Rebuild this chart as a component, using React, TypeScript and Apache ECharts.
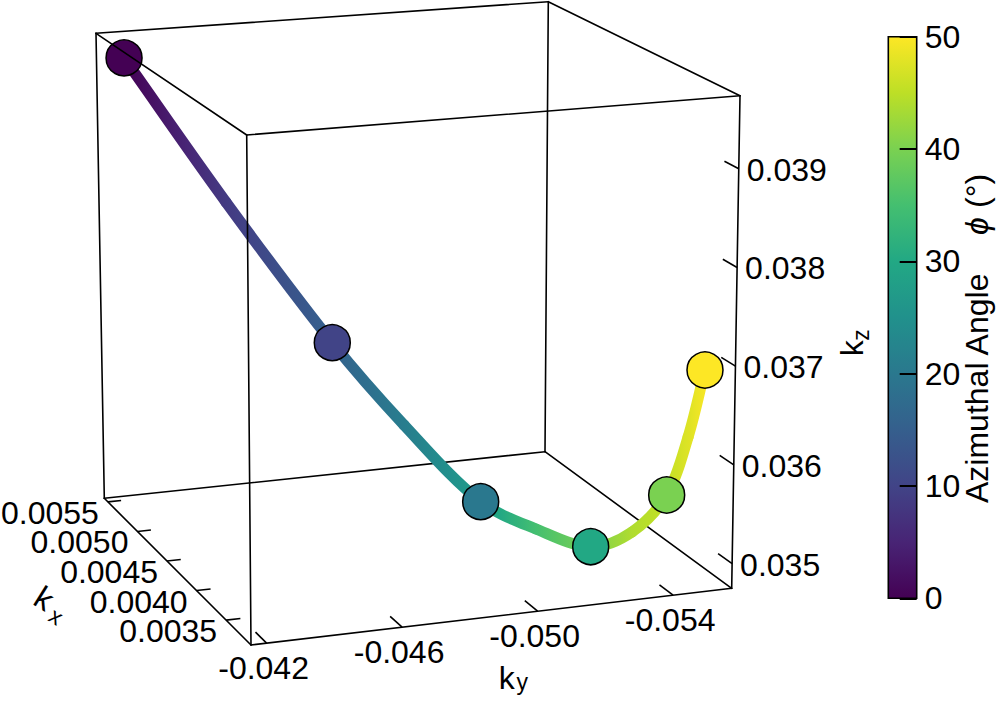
import React, { useEffect, useRef } from 'react';
import * as echarts from 'echarts';

// ---------------- data ----------------
const PHI = [0, 5, 10, 15, 20, 25, 30, 35, 40, 45, 50];
const KX = [0.005448, 0.005312, 0.005064, 0.004717, 0.00432, 0.003923, 0.003601, 0.003378, 0.003266, 0.003216, 0.003204];
const KY = [-0.042193, -0.045059, -0.047847, -0.049346, -0.05087, -0.051707, -0.052665, -0.053409, -0.054179, -0.054676, -0.055118];
const KZ = [0.03951, 0.037954, 0.036495, 0.035762, 0.035127, 0.035039, 0.035003, 0.035249, 0.035656, 0.036252, 0.036923];
// colour value (in colour-bar degrees) of the line at each sample
const LINE_SHADE = [0, 8.5, 15.5, 21, 27.5, 35, 40, 44, 45.5, 47.5, 49.5];
const MARKER_PHI = [0, 10, 20, 30, 40, 50];

const KX_TICKS = [0.0035, 0.004, 0.0045, 0.005, 0.0055];
const KY_TICKS = [-0.042, -0.046, -0.05, -0.054];
const KZ_TICKS = [0.035, 0.036, 0.037, 0.038, 0.039];
const CB_MIN = 0;
const CB_MAX = 50;
const CB_INTERVAL = 10;

// ---------------- box / projection ----------------
const KX_BACK = 0.00556;
const KX_FRONT = 0.00308;
const KY_LEFT = -0.04154;
const KY_RIGHT = -0.05573;
const KZ_BOTTOM = 0.03475;
const KZ_TOP = 0.03974;

// pixel position of the 8 box corners, key = u v w bits (u: ky, v: kx depth, w: kz)
const CORNERS: Record<string, [number, number]> = {
  '000': [104.3, 498.3],
  '100': [545, 451.7],
  '010': [251, 645],
  '110': [731.7, 588.3],
  '001': [96, 33.3],
  '101': [548.3, 1.7],
  '011': [246.7, 135],
  '111': [740, 95.7],
};
const BACK_EDGES: [string, string][] = [
  ['101', '100'],
  ['000', '100'],
  ['100', '110'],
];
const FRONT_EDGES: [string, string][] = [
  ['001', '011'],
  ['011', '111'],
  ['111', '101'],
  ['101', '001'],
  ['011', '010'],
  ['010', '000'],
  ['000', '001'],
  ['111', '110'],
  ['110', '010'],
];

const FONT = "'Liberation Sans', Arial, Helvetica, sans-serif";
const VIRIDIS = ['#440154', '#482475', '#414487', '#355f8d', '#2a788e', '#21918c', '#22a884', '#44bf70', '#7ad151', '#bddf26', '#fde725'];

function hexToRgb(h: string) {
  return [parseInt(h.slice(1, 3), 16), parseInt(h.slice(3, 5), 16), parseInt(h.slice(5, 7), 16)];
}
function viridis(t: number) {
  const c = Math.max(0, Math.min(1, t)) * 10;
  const i = Math.min(9, Math.floor(c));
  const f = c - i;
  const a = hexToRgb(VIRIDIS[i]);
  const b = hexToRgb(VIRIDIS[i + 1]);
  const m = a.map((x, k) => Math.round(x + (b[k] - x) * f));
  return `rgb(${m[0]},${m[1]},${m[2]})`;
}

function toNorm(kx: number, ky: number, kz: number) {
  return [
    (KY_LEFT - ky) / (KY_LEFT - KY_RIGHT),
    (KX_BACK - kx) / (KX_BACK - KX_FRONT),
    (kz - KZ_BOTTOM) / (KZ_TOP - KZ_BOTTOM),
  ];
}
function toPlot(u: number, v: number, w: number): [number, number] {
  let x = 0;
  let y = 0;
  for (const key of Object.keys(CORNERS)) {
    const bu = key[0] === '1';
    const bv = key[1] === '1';
    const bw = key[2] === '1';
    const wt = (bu ? u : 1 - u) * (bv ? v : 1 - v) * (bw ? w : 1 - w);
    x += wt * CORNERS[key][0];
    y += wt * CORNERS[key][1];
  }
  return [x, y];
}
function cornerPlot(key: string) {
  return toPlot(+key[0], +key[1], +key[2]);
}
function project(i: number) {
  const n = toNorm(KX[i], KY[i], KZ[i]);
  return toPlot(n[0], n[1], n[2]);
}

const edgeSeries = (edges: [string, string][], z: number) => ({
  type: 'custom',
  xAxisIndex: 0,
  yAxisIndex: 0,
  z,
  silent: true,
  encode: { x: [0, 2], y: [1, 3] },
  data: edges.map(([a, b]) => [...cornerPlot(a), ...cornerPlot(b)]),
  renderItem: (_p: any, api: any) => {
    const p0 = api.coord([api.value(0), api.value(1)]);
    const p1 = api.coord([api.value(2), api.value(3)]);
    return {
      type: 'line',
      shape: { x1: p0[0], y1: p0[1], x2: p1[0], y2: p1[1] },
      style: { stroke: '#000', lineWidth: 1.6, lineCap: 'round' },
    };
  },
});

function tickSeries(
  ticks: number[],
  digits: number,
  at: (t: number) => [[number, number, number], [number, number, number]],
  dx: number,
  dy: number,
  align: string,
  lineHeight: number
) {
  return {
    type: 'custom',
    xAxisIndex: 0,
    yAxisIndex: 0,
    z: 4,
    silent: true,
    data: ticks.map((t) => [t]),
    renderItem: (_p: any, api: any) => {
      const t = api.value(0);
      const [a, b] = at(t);
      const pa = api.coord(toPlot(a[0], a[1], a[2]));
      const pb = api.coord(toPlot(b[0], b[1], b[2]));
      return {
        type: 'group',
        children: [
          {
            type: 'line',
            shape: { x1: pa[0], y1: pa[1], x2: pb[0], y2: pb[1] },
            style: { stroke: '#000', lineWidth: 1.6 },
          },
          {
            type: 'text',
            x: pa[0] + dx,
            y: pa[1] + dy,
            style: {
              text: t.toFixed(digits),
              fontSize: 32,
              lineHeight,
              fontFamily: FONT,
              fill: '#000',
              align,
              verticalAlign: 'middle',
            },
          },
        ],
      };
    },
  };
}

function buildOption() {
  const pts = PHI.map((_, i) => project(i));
  const n = pts.length;
  const dist = (a: number[], b: number[]) => Math.hypot(b[0] - a[0], b[1] - a[1]);
  const d = pts.slice(0, -1).map((p, i) => dist(p, pts[i + 1]));
  const tang = pts.map((p, i) => {
    if (i === 0) return [(pts[1][0] - p[0]) / d[0], (pts[1][1] - p[1]) / d[0]];
    if (i === n - 1) return [(p[0] - pts[i - 1][0]) / d[i - 1], (p[1] - pts[i - 1][1]) / d[i - 1]];
    const s = d[i - 1] + d[i];
    return [(pts[i + 1][0] - pts[i - 1][0]) / s, (pts[i + 1][1] - pts[i - 1][1]) / s];
  });
  // bezier segments [x0, y0, cx1, cy1, cx2, cy2, x1, y1]
  const segs = d.map((len, i) => [
    pts[i][0],
    pts[i][1],
    pts[i][0] + (tang[i][0] * len) / 3,
    pts[i][1] + (tang[i][1] * len) / 3,
    pts[i + 1][0] - (tang[i + 1][0] * len) / 3,
    pts[i + 1][1] - (tang[i + 1][1] * len) / 3,
    pts[i + 1][0],
    pts[i + 1][1],
  ]);

  const xs = pts.map((p) => p[0]);
  const xmin = xs[0];
  const xmax = xs[n - 1];
  const stops: { offset: number; color: string }[] = [];
  const S = 8;
  for (let i = 0; i < n - 1; i++) {
    for (let k = 0; k < S; k++) {
      const f = k / S;
      const x = xs[i] + (xs[i + 1] - xs[i]) * f;
      const c = LINE_SHADE[i] + (LINE_SHADE[i + 1] - LINE_SHADE[i]) * f;
      stops.push({ offset: (x - xmin) / (xmax - xmin), color: viridis((c - CB_MIN) / (CB_MAX - CB_MIN)) });
    }
  }
  stops.push({ offset: 1, color: viridis((LINE_SHADE[n - 1] - CB_MIN) / (CB_MAX - CB_MIN)) });

  const markers = MARKER_PHI.map((m) => {
    const i = PHI.indexOf(m);
    return [...pts[i], m];
  });

  const txt = (text: string, x: number, y: number, size: number, extra: any = {}) => ({
    type: 'text',
    x,
    y,
    silent: true,
    style: { text, fontSize: size, fontFamily: FONT, fill: '#000', align: 'center', verticalAlign: 'middle', ...extra },
  });

  return {
    animation: false,
    backgroundColor: '#ffffff',
    grid: [
      { left: 0, top: 0, width: 996, height: 701 },
      { left: 888.3, top: 36.7, width: 28.4, height: 561.6 },
    ],
    xAxis: [
      { type: 'value', gridIndex: 0, min: 0, max: 996, show: false },
      { type: 'value', gridIndex: 1, min: 0, max: 1, show: false },
    ],
    yAxis: [
      { type: 'value', gridIndex: 0, min: 0, max: 701, inverse: true, show: false },
      {
        type: 'value',
        gridIndex: 1,
        min: CB_MIN,
        max: CB_MAX,
        interval: CB_INTERVAL,
        position: 'right',
        z: 10,
        axisLine: { show: false, onZero: false },
        axisTick: { show: true, inside: true, length: 17, lineStyle: { color: '#000', width: 2 } },
        axisLabel: { color: '#000', fontSize: 32, fontFamily: FONT, margin: 8 },
        splitLine: { show: false },
      },
    ],
    graphic: [
      {
        type: 'group',
        x: 44.2,
        y: 598.3,
        rotation: -0.56,
        children: [txt('k', 0, 0, 32), txt('x', 19.6, 8.9, 23)],
      },
      {
        type: 'group',
        children: [txt('k', 506.7, 678, 32), txt('y', 522.3, 682.3, 23)],
      },
      {
        type: 'group',
        x: 852,
        y: 348.3,
        rotation: Math.PI / 2,
        children: [txt('k', 0, 0, 32), txt('z', 13.3, 9.3, 23)],
      },
      {
        type: 'group',
        x: 977.2,
        y: 503,
        rotation: Math.PI / 2,
        children: [
          txt('Azimuthal Angle', 0, 0, 32, { align: 'left' }),
          txt('\u03d5', 268, 0, 32, { align: 'left', fontStyle: 'italic' }),
          txt('(°)', 295, 0, 32, { align: 'left' }),
        ],
      },
    ],
    series: [
      edgeSeries(BACK_EDGES, 1),
      {
        type: 'custom',
        name: 'curve',
        xAxisIndex: 0,
        yAxisIndex: 0,
        z: 2,
        silent: true,
        encode: { x: [0, 6], y: [1, 7] },
        data: segs,
        renderItem: (_p: any, api: any) => {
          const a = api.coord([api.value(0), api.value(1)]);
          const c1 = api.coord([api.value(2), api.value(3)]);
          const c2 = api.coord([api.value(4), api.value(5)]);
          const b = api.coord([api.value(6), api.value(7)]);
          const ga = api.coord([xmin, 0]);
          const gb = api.coord([xmax, 0]);
          return {
            type: 'bezierCurve',
            shape: { x1: a[0], y1: a[1], cpx1: c1[0], cpy1: c1[1], cpx2: c2[0], cpy2: c2[1], x2: b[0], y2: b[1] },
            style: {
              fill: 'none',
              lineWidth: 11,
              lineCap: 'round',
              stroke: new echarts.graphic.LinearGradient(ga[0], 0, gb[0], 0, stops, true),
            },
          };
        },
      },
      {
        type: 'scatter',
        xAxisIndex: 0,
        yAxisIndex: 0,
        z: 3,
        silent: true,
        symbolSize: 36,
        data: markers,
        itemStyle: {
          color: (p: any) => viridis((p.value[2] - CB_MIN) / (CB_MAX - CB_MIN)),
          borderColor: '#000',
          borderWidth: 1.5,
          opacity: 1,
        },
      },
      edgeSeries(FRONT_EDGES, 4),
      tickSeries(
        KX_TICKS,
        4,
        (t) => {
          const v = toNorm(t, KY_LEFT, KZ_BOTTOM)[1];
          return [[0, v, 0], [0.03, v, 0]];
        },
        -9,
        11,
        'right',
        24
      ),
      tickSeries(
        KY_TICKS,
        3,
        (t) => {
          const u = toNorm(KX_FRONT, t, KZ_BOTTOM)[0];
          return [[u, 1, 0], [u, 0.925, 0]];
        },
        -3,
        25,
        'center',
        32
      ),
      tickSeries(
        KZ_TICKS,
        3,
        (t) => {
          const w = toNorm(KX_FRONT, KY_RIGHT, t)[2];
          return [[1, 1, w], [1, 0.925, w]];
        },
        8,
        1,
        'left',
        32
      ),
      {
        type: 'custom',
        xAxisIndex: 1,
        yAxisIndex: 1,
        z: 2,
        silent: true,
        data: [[0.5, (CB_MIN + CB_MAX) / 2]],
        renderItem: (_p: any, api: any) => {
          const p0 = api.coord([0, CB_MAX]);
          const p1 = api.coord([1, CB_MIN]);
          const shape = { x: p0[0], y: p0[1], width: p1[0] - p0[0], height: p1[1] - p0[1] };
          return {
            type: 'group',
            children: [
              {
                type: 'rect',
                shape,
                style: {
                  fill: new echarts.graphic.LinearGradient(
                    0,
                    1,
                    0,
                    0,
                    VIRIDIS.map((c, i) => ({ offset: i / (VIRIDIS.length - 1), color: c }))
                  ),
                },
              },
              { type: 'rect', shape, style: { fill: 'none', stroke: '#000', lineWidth: 1.6 } },
            ],
          };
        },
      },
    ],
  };
}

export default function App() {
  const ref = useRef<HTMLDivElement>(null);
  useEffect(() => {
    if (!ref.current) return;
    const chart = echarts.init(ref.current, undefined, { renderer: 'svg' });
    chart.setOption(buildOption() as any);
    return () => chart.dispose();
  }, []);
  return (
    <div
      ref={ref}
      style={{ position: 'absolute', left: 0, top: 0, width: 996, height: 701, background: '#fff' }}
    />
  );
}
